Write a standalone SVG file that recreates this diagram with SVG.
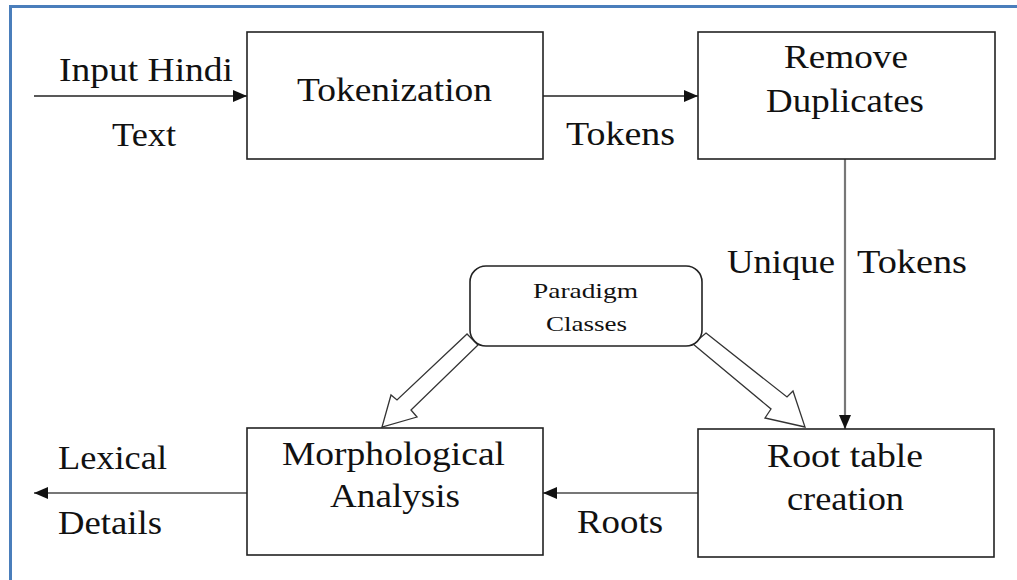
<svg xmlns="http://www.w3.org/2000/svg" width="1017" height="580" viewBox="0 0 1017 580">
<style>
.box{fill:#fff;stroke:#222;stroke-width:1.6}
.t{font-family:"Liberation Serif","Times New Roman",serif;font-size:33px;fill:#111}
.s{font-family:"Liberation Serif","Times New Roman",serif;font-size:22px;fill:#111}
.ln{fill:none;stroke:#222;stroke-width:1.6}
.gl{fill:none;stroke:#777;stroke-width:2.2}
.blk{fill:#fff;stroke:#333;stroke-width:1.3;stroke-linejoin:miter}
</style>
<defs>
<marker id="ah" viewBox="0 0 14 12" refX="14" refY="6" markerWidth="14" markerHeight="12" markerUnits="userSpaceOnUse" orient="auto">
<path d="M0,0 L14,6 L0,12 Z" fill="#111"/>
</marker>
</defs>
<rect width="1017" height="580" fill="#fff"/>
<path d="M10.5,580 V6.5 H1017" fill="none" stroke="#4a7ebb" stroke-width="3"/>
<g id="connectors">
<line class="ln" x1="34" y1="96" x2="247" y2="96" marker-end="url(#ah)"/>
<line class="ln" x1="543" y1="96" x2="698" y2="96" marker-end="url(#ah)"/>
<line class="gl" x1="845" y1="159" x2="845" y2="429" marker-end="url(#ah)"/>
<line class="gl" x1="698" y1="493" x2="543" y2="493" marker-end="url(#ah)"/>
<line class="gl" x1="247" y1="493" x2="34" y2="493" marker-end="url(#ah)"/>
<polygon class="blk" points="467,334 397,400 391,395 382,427 417,417 411,410 478,345"/>
<polygon class="blk" points="706,333 787,397 793,391 805,427 765,418 771,409 693,344"/>
<text class="t" x="59" y="81" textLength="174" lengthAdjust="spacingAndGlyphs">Input Hindi</text>
<text class="t" x="112" y="146" textLength="64" lengthAdjust="spacingAndGlyphs">Text</text>
<text class="t" x="566" y="145" textLength="109" lengthAdjust="spacingAndGlyphs">Tokens</text>
<text class="t" x="727" y="273" textLength="108" lengthAdjust="spacingAndGlyphs">Unique</text>
<text class="t" x="857" y="273" textLength="110" lengthAdjust="spacingAndGlyphs">Tokens</text>
<text class="t" x="577" y="533" textLength="86" lengthAdjust="spacingAndGlyphs">Roots</text>
<text class="t" x="58" y="469" textLength="109" lengthAdjust="spacingAndGlyphs">Lexical</text>
<text class="t" x="58" y="534" textLength="104" lengthAdjust="spacingAndGlyphs">Details</text>
</g>
<g id="tokenization">
<rect class="box" x="247" y="32" width="296" height="127"/>
<text class="t" x="297" y="101" textLength="195" lengthAdjust="spacingAndGlyphs">Tokenization</text>
</g>
<g id="remove-duplicates">
<rect class="box" x="698" y="32" width="297" height="127"/>
<text class="t" x="784" y="68" textLength="124" lengthAdjust="spacingAndGlyphs">Remove</text>
<text class="t" x="766" y="112" textLength="158" lengthAdjust="spacingAndGlyphs">Duplicates</text>
</g>
<g id="paradigm-classes">
<rect class="box" x="470" y="266" width="232" height="80" rx="16" ry="16"/>
<text class="s" x="533" y="298" textLength="105" lengthAdjust="spacingAndGlyphs">Paradigm</text>
<text class="s" x="546" y="331" textLength="81" lengthAdjust="spacingAndGlyphs">Classes</text>
</g>
<g id="morphological-analysis">
<rect class="box" x="247" y="428" width="296" height="127"/>
<text class="t" x="282" y="465" textLength="223" lengthAdjust="spacingAndGlyphs">Morphological</text>
<text class="t" x="330" y="507" textLength="130" lengthAdjust="spacingAndGlyphs">Analysis</text>
</g>
<g id="root-table-creation">
<rect class="box" x="698" y="429" width="296" height="128"/>
<text class="t" x="767" y="467" textLength="156" lengthAdjust="spacingAndGlyphs">Root table</text>
<text class="t" x="787" y="510" textLength="117" lengthAdjust="spacingAndGlyphs">creation</text>
</g>
</svg>
